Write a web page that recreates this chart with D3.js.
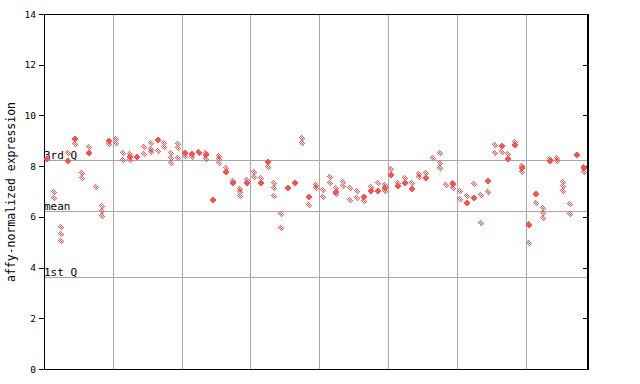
<!DOCTYPE html>
<html>
<head>
<meta charset="utf-8">
<script src="https://cdn.jsdelivr.net/npm/d3@7"></script>
<style>
  html, body { margin: 0; padding: 0; background: #fff; }
  svg { display: block; }
  text { font-family: "DejaVu Sans Mono", monospace; fill: #000; }
</style>
</head>
<body>
<svg id="chart" width="640" height="384"></svg>
<script>
// ---- data ----
const sampleCount = 79;
const samples = d3.range(sampleCount);          // sample index (no labels on x axis)

// solid markers per sample
const solidValues = [
  [8.27], [], [], [8.21], [9.08], [], [8.53], [], [], [9.00],
  [], [], [8.35], [8.37], [], [], [9.03], [], [], [],
  [8.52], [8.48], [], [8.42], [6.66], [], [7.78], [7.35], [], [7.35],
  [], [7.35], [8.15], [], [], [7.12], [7.35], [], [6.80], [],
  [], [], [6.99], [], [], [], [6.77], [7.03], [7.03], [7.15],
  [7.65], [7.23], [7.32], [7.10], [], [7.55], [], [], [], [7.28],
  [], [6.56], [6.76], [], [7.43], [], [8.81], [8.28], [8.83], [7.91],
  [5.68], [6.90], [], [8.21], [], [], [], [8.44], [7.94]
];

// hatched (checkered) markers per sample
const hatchedValues = [
  [], [6.97, 6.74], [5.60, 5.31, 5.04], [8.50], [8.87], [7.72, 7.55], [8.74], [7.17], [6.44, 6.23, 6.05], [8.86],
  [9.08, 8.92], [8.50, 8.24], [8.47, 8.24], [], [8.74, 8.48], [8.90, 8.68, 8.57], [8.60], [8.90, 8.77], [8.50, 8.31, 8.11], [8.86, 8.73, 8.33],
  [8.40], [8.37], [8.57, 8.50], [8.52, 8.27], [], [8.40, 8.27, 8.14], [7.91], [7.42], [7.10, 6.97, 6.83], [7.45],
  [7.78, 7.58], [7.52], [7.98], [7.32, 7.12, 6.83], [6.10, 5.55], [], [], [9.10, 8.90], [6.47], [7.26, 7.12],
  [7.06, 6.80], [7.58, 7.32], [7.12, 6.90], [7.39, 7.22], [7.12, 6.66], [7.03, 6.73], [6.64], [7.19], [7.32], [7.26, 7.02],
  [7.87], [7.32], [7.52], [7.35], [7.69, 7.56], [7.72], [8.33], [8.50, 8.11, 7.91], [7.26], [7.35, 7.12],
  [7.02, 6.69], [6.82], [7.29], [6.86, 5.74], [6.98], [8.83, 8.53], [8.57], [8.47], [8.96], [8.02, 7.78],
  [5.72, 4.96], [6.53], [6.34, 6.14, 5.94], [8.27], [8.33, 8.21], [7.39, 7.23, 7.02], [6.51, 6.10], [], [7.98, 7.78]
];

const yTicks = [0, 2, 4, 6, 8, 10, 12, 14];
const refLabels = ["3rd Q", "mean", "1st Q"];
const refValues = [8.23, 6.23, 3.62];
const gridEvery = 10;
const yLabel = "affy-normalized expression";

// ---- layout ----
const svg = d3.select("#chart");
const pL = 44, pR = 587.5, pT = 14, pB = 369;
const red = "#ff5050";

const x = d3.scaleBand().domain(samples).range([pL, pR]).paddingInner(0).paddingOuter(0);
const y = d3.scaleLinear().domain([0, 14]).range([pB, pT]);

// checker pattern
const defs = svg.append("defs");
const pat = defs.append("pattern")
  .attr("id", "checker").attr("patternUnits", "userSpaceOnUse")
  .attr("x", 0).attr("y", 0).attr("width", 2).attr("height", 2);
pat.append("rect").attr("x", 0).attr("y", 0).attr("width", 1).attr("height", 1).attr("fill", red);
pat.append("rect").attr("x", 1).attr("y", 1).attr("width", 1).attr("height", 1).attr("fill", red);

// vertical grid lines
const gridIdx = samples.filter(i => i > 0 && i % gridEvery === 0);
svg.append("g").selectAll("line").data(gridIdx).join("line")
  .attr("x1", i => Math.round(x(i)) + 0.5).attr("x2", i => Math.round(x(i)) + 0.5)
  .attr("y1", pT).attr("y2", pB)
  .attr("stroke", "#a8a8a8").attr("stroke-width", 1).attr("shape-rendering", "crispEdges");

// reference lines (quartiles / mean)
const refs = refValues.map((v, k) => ({ v, label: refLabels[k] }));
svg.append("g").selectAll("line").data(refs).join("line")
  .attr("x1", pL).attr("x2", pR)
  .attr("y1", d => Math.round(y(d.v)) + 0.5).attr("y2", d => Math.round(y(d.v)) + 0.5)
  .attr("stroke", "#a8a8a8").attr("stroke-width", 1).attr("shape-rendering", "crispEdges");
svg.append("g").selectAll("text").data(refs).join("text")
  .attr("x", pL).attr("y", d => Math.round(y(d.v)) - 1)
  .attr("font-size", 11).text(d => d.label);

// axes
const gl = svg.append("g").attr("transform", `translate(${pL},0)`)
  .call(d3.axisLeft(y).tickValues(yTicks).tickSize(5).tickPadding(3).tickFormat(d3.format("d")));
gl.selectAll("text").attr("font-size", 9.5).attr("font-family", "DejaVu Sans Mono, monospace");
const gr = svg.append("g").attr("transform", `translate(${pR},0)`)
  .call(d3.axisLeft(y).tickValues(yTicks).tickSize(5).tickFormat(""));
[gl, gr].forEach(g => {
  g.selectAll("path").attr("stroke", "#000").attr("shape-rendering", "crispEdges");
  g.selectAll("line").attr("stroke", "#000").attr("shape-rendering", "crispEdges");
});
// top & bottom border
svg.append("rect")
  .attr("x", pL).attr("y", pT).attr("width", pR - pL).attr("height", pB - pT)
  .attr("fill", "none").attr("stroke", "#000").attr("stroke-width", 1)
  .attr("shape-rendering", "crispEdges");

// y label
svg.append("text")
  .attr("transform", `translate(14.5,192) rotate(-90)`)
  .attr("text-anchor", "middle").attr("font-size", 11.5)
  .text(yLabel);

// points
const diamond = r => `M0,${-r}L${r},0L0,${r}L${-r},0Z`;
const hatchedPts = [];
hatchedValues.forEach((vals, i) => vals.forEach(v => hatchedPts.push({ i, v })));
const solidPts = [];
solidValues.forEach((vals, i) => vals.forEach(v => solidPts.push({ i, v })));

const cx = i => Math.round(x(i) + x.bandwidth() / 2);
svg.append("g").selectAll("path").data(hatchedPts).join("path")
  .attr("transform", d => `translate(${cx(d.i)},${Math.round(y(d.v))})`)
  .attr("d", diamond(3.5))
  .attr("fill", "url(#checker)").attr("shape-rendering", "crispEdges");
svg.append("g").selectAll("path").data(solidPts).join("path")
  .attr("transform", d => `translate(${cx(d.i)},${Math.round(y(d.v))})`)
  .attr("d", diamond(3.5))
  .attr("fill", red).attr("shape-rendering", "crispEdges");
</script>
</body>
</html>
